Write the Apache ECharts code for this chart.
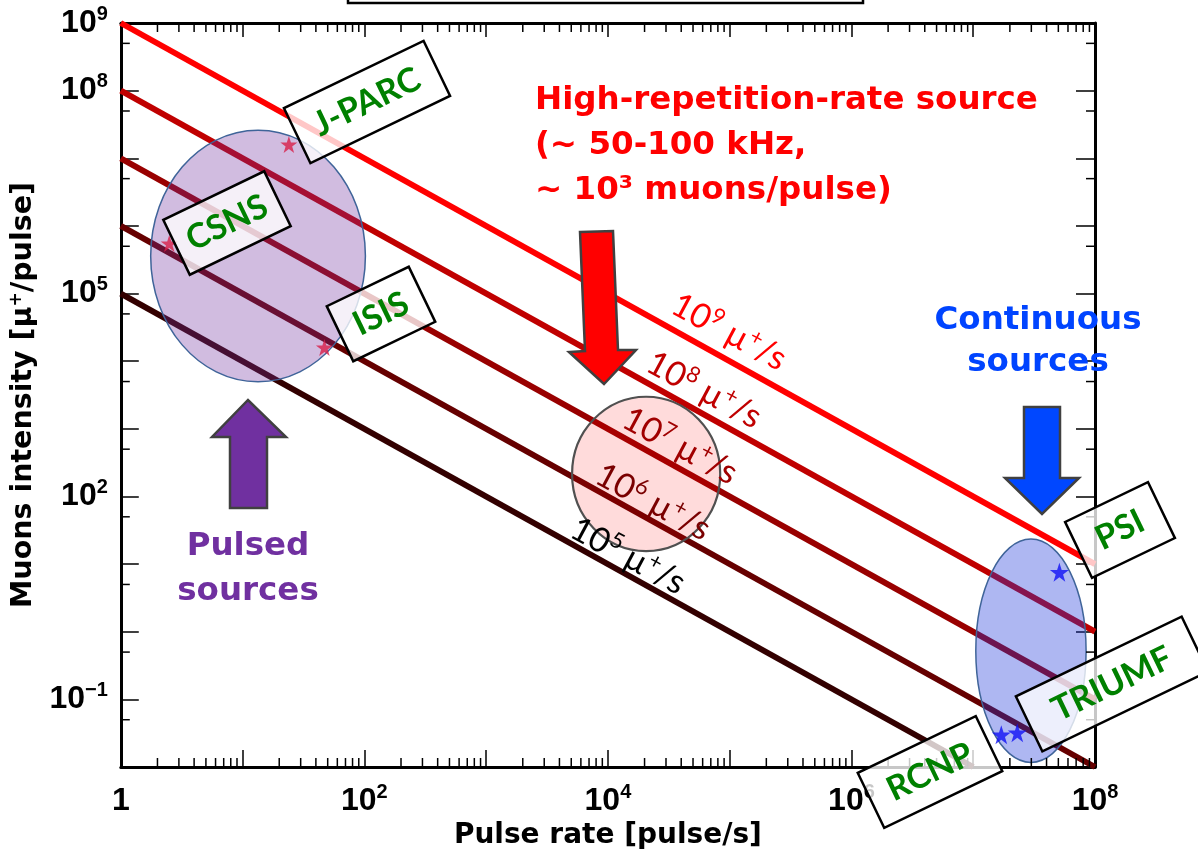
<!DOCTYPE html>
<html>
<head>
<meta charset="utf-8">
<script src="https://cdn.jsdelivr.net/npm/echarts@6/dist/echarts.min.js"></script>
<style>
  html, body { margin: 0; padding: 0; background: #fff; }
  #chart { width: 1198px; height: 855px; }
</style>
</head>
<body>
<div id="chart"></div>
<script>
// ---- axis ranges: pulse rate [pulse/s] and intensity [muons/pulse] ----
const xRange = [1, 1e8];
const yRange = [1e-2, 1e9];
// decades that carry a tick label
const xLabelExps = [0, 2, 4, 6, 8];
const yLabelExps = [9, 8, 5, 2, -1];
// minor tick mantissas inside each decade
const xMinorMantissas = [2, 3, 4, 5, 6, 7, 8, 9];
const yMinorMantissas = [5];

// ---- lines of constant total muon rate (10^n muons/s) ----
const rateExps = [9, 8, 7, 6, 5];
const rateLineStart = [[1, 1e9], [1, 1e8], [1, 1e7], [1, 1e6], [1, 1e5]];
const rateLineEnd = [[1e8, 10], [1e8, 1], [1e8, 0.1], [1e8, 0.01], [1e7, 0.01]];

// ---- facilities ----
const pulsedNames = ['J-PARC', 'CSNS', 'ISIS'];
const pulsedRate = [24, 2.5, 47];
const pulsedIntensity = [1.6e7, 5.5e5, 1.6e4];
const continuousNames = ['PSI', 'RCNP', 'TRIUMF'];
const continuousRate = [5.1e7, 1.7e7, 2.3e7];
const continuousIntensity = [7.6, 0.030, 0.032];

// ---- highlighted regions: [lower-left corner, upper-right corner] ----
const pulsedRegion = [[1.76, 4970], [102, 2.6e7]];
const highRepRegion = [[5080, 15.6], [8.36e4, 2980]];
const continuousRegion = [[1.05e7, 0.0117], [8.45e7, 23.4]];

// ---- styles ----
const lineColors = ['#ff0000', '#c00000', '#990000', '#660000', '#330000'];
const rateLabelColors = ['#ff0000', '#c00000', '#a00000', '#7a0000', '#000000'];
const tickFont = 'Liberation Sans, Arial, sans-serif';
const noteFont = 'DejaVu Sans, sans-serif';

function decadeTicks(range, mantissas) {
  const out = [];
  const e0 = Math.round(Math.log10(range[0]));
  const e1 = Math.round(Math.log10(range[1]));
  for (let e = e0; e < e1; e++) {
    mantissas.forEach(function (m) { out.push(m * Math.pow(10, e)); });
  }
  return out;
}
const xMinorTicks = decadeTicks(xRange, xMinorMantissas);
const yMinorTicks = decadeTicks(yRange, yMinorMantissas);

function powerLabel(exps) {
  return function (v) {
    const e = Math.round(Math.log10(v));
    if (exps.indexOf(e) < 0) return '';
    if (e === 0) return '{b|1}';
    return '{b|10}{s|' + (e < 0 ? '\u2212' + (-e) : e) + '}';
  };
}
const tickRich = {
  b: { fontFamily: tickFont, fontWeight: 'bold', fontSize: 32, color: '#000', lineHeight: 38 },
  s: { fontFamily: tickFont, fontWeight: 'bold', fontSize: 20, color: '#000', verticalAlign: 'top', lineHeight: 20 }
};

const axisLine = { show: true, lineStyle: { color: '#000', width: 3 } };

const chart = echarts.init(document.getElementById('chart'), null, { renderer: 'canvas' });

const lineSeries = rateExps.map(function (e, i) {
  return {
    type: 'line',
    name: '1e' + e,
    data: [rateLineStart[i], rateLineEnd[i]],
    symbol: 'none',
    clip: true,
    z: 2,
    silent: true,
    lineStyle: { color: lineColors[i], width: 6 }
  };
});

function regionSeries(region, fill, stroke, lw) {
  return {
    type: 'custom',
    coordinateSystem: 'cartesian2d',
    z: 3,
    silent: true,
    data: [[region[0][0], region[0][1], region[1][0], region[1][1]]],
    encode: { x: [0, 2], y: [1, 3] },
    renderItem: function (params, api) {
      const a = api.coord([api.value(0), api.value(1)]);
      const b = api.coord([api.value(2), api.value(3)]);
      return {
        type: 'ellipse',
        shape: {
          cx: (a[0] + b[0]) / 2, cy: (a[1] + b[1]) / 2,
          rx: Math.abs(b[0] - a[0]) / 2, ry: Math.abs(b[1] - a[1]) / 2
        },
        style: { fill: fill, stroke: stroke, lineWidth: lw }
      };
    }
  };
}

const starPath = 'path://M50,0 L61.8,35.5 L99,35.5 L68.9,57.4 L80.4,92.7 L50,70.9 L19.6,92.7 L31.1,57.4 L1,35.5 L38.2,35.5 Z';

const tickStyle = { stroke: '#000', lineWidth: 1.5 };
const xMinorSeries = {
  type: 'custom',
  silent: true,
  z: 6,
  clip: false,
  data: xMinorTicks.map(function (v) { return [v, 1]; }),
  renderItem: function (params, api) {
    const v = api.value(0);
    const pb = api.coord([v, yRange[0]]);
    const pt = api.coord([v, yRange[1]]);
    return {
      type: 'group',
      children: [
        { type: 'line', shape: { x1: pb[0], y1: pb[1], x2: pb[0], y2: pb[1] - 9 }, style: tickStyle },
        { type: 'line', shape: { x1: pt[0], y1: pt[1], x2: pt[0], y2: pt[1] + 9 }, style: tickStyle }
      ]
    };
  }
};
const yMinorSeries = {
  type: 'custom',
  silent: true,
  z: 6,
  clip: false,
  data: yMinorTicks.map(function (v) { return [1, v]; }),
  renderItem: function (params, api) {
    const v = api.value(1);
    const pl = api.coord([xRange[0], v]);
    const pr = api.coord([xRange[1], v]);
    return {
      type: 'group',
      children: [
        { type: 'line', shape: { x1: pl[0], y1: pl[1], x2: pl[0] + 9, y2: pl[1] }, style: tickStyle },
        { type: 'line', shape: { x1: pr[0], y1: pr[1], x2: pr[0] - 9, y2: pr[1] }, style: tickStyle }
      ]
    };
  }
};

// ---- annotation helpers (pixel space) ----
const boxAngle = 0.449;
function labelBox(cx, cy, w, h, text) {
  return {
    type: 'group', x: cx, y: cy, rotation: boxAngle, z: 100,
    children: [
      { type: 'rect', z: 100, shape: { x: -w / 2, y: -h / 2, width: w, height: h },
        style: { fill: 'rgba(255,255,255,0.78)', stroke: '#000', lineWidth: 2.5 } },
      { type: 'text', z: 101, x: 0, y: 0,
        style: { text: text, x: 0, y: 0, align: 'center', verticalAlign: 'middle',
          textAlign: 'center', textVerticalAlign: 'middle',
          font: 'bold 34px Lato, sans-serif', fill: '#008000' } }
    ]
  };
}
const rateAngle = -0.495;
function rateLabel(cx, cy, exp, color) {
  return {
    type: 'text', x: cx, y: cy, rotation: rateAngle, z: 100,
    style: {
      text: '{n|10}{s|' + exp + '}{n| \u00b5}{s|+}{n|/s}',
      x: 0, y: 0, align: 'center', verticalAlign: 'middle',
      textAlign: 'center', textVerticalAlign: 'middle',
      fill: color,
      rich: {
        n: { fontFamily: 'Lato, sans-serif', fontSize: 34, lineHeight: 38, fill: color },
        s: { fontFamily: 'Lato, sans-serif', fontSize: 22, lineHeight: 20, verticalAlign: 'top', fill: color }
      }
    }
  };
}
function note(x, y, text, color, align) {
  return {
    type: 'text', x: x, y: y, z: 100,
    style: { text: text, x: 0, y: 0, align: align, verticalAlign: 'middle',
      textAlign: align, textVerticalAlign: 'middle',
      font: 'bold 32.5px ' + noteFont, fill: color }
  };
}
function arrow(points, color) {
  return { type: 'polygon', z: 100, shape: { points: points },
    style: { fill: color, stroke: '#404040', lineWidth: 2.5 } };
}

const option = {
  animation: false,
  backgroundColor: '#ffffff',
  grid: { left: 115, top: 23, width: 980, height: 744, containLabel: false },
  xAxis: [
    {
      type: 'log', logBase: 10, min: xRange[0], max: xRange[1], interval: 1,
      position: 'bottom',
      name: 'Pulse rate [pulse/s]', nameLocation: 'middle', nameGap: 52,
      nameTextStyle: { fontFamily: noteFont, fontWeight: 'bold', fontSize: 28, color: '#000' },
      axisLine: axisLine,
      axisTick: { show: true, inside: true, length: 17, lineStyle: { color: '#000', width: 1.5 } },
      axisLabel: { show: true, margin: 15, formatter: powerLabel(xLabelExps), rich: tickRich, showMinLabel: true, showMaxLabel: true, hideOverlap: false },
      splitLine: { show: false }
    },
    {
      type: 'log', logBase: 10, min: xRange[0], max: xRange[1], interval: 1,
      position: 'top',
      axisLine: axisLine,
      axisTick: { show: true, inside: true, length: 14, lineStyle: { color: '#000', width: 1.5 } },
      axisLabel: { show: false },
      splitLine: { show: false }
    }
  ],
  yAxis: [
    {
      type: 'log', logBase: 10, min: yRange[0], max: yRange[1], interval: 1,
      position: 'left',
      name: '{t|Muons intensity [\u03bc}{u|+}{t|/pulse]}', nameLocation: 'middle', nameGap: 72,
      nameTextStyle: {
        rich: {
          t: { fontFamily: noteFont, fontWeight: 'bold', fontSize: 28.5, color: '#000', lineHeight: 32 },
          u: { fontFamily: noteFont, fontWeight: 'bold', fontSize: 17, color: '#000', verticalAlign: 'top', lineHeight: 16 }
        }
      },
      axisLine: axisLine,
      axisTick: { show: true, inside: true, length: 18, lineStyle: { color: '#000', width: 1.5 } },
      axisLabel: { show: true, margin: 13, formatter: powerLabel(yLabelExps), rich: tickRich, showMinLabel: true, showMaxLabel: true, hideOverlap: false },
      splitLine: { show: false }
    },
    {
      type: 'log', logBase: 10, min: yRange[0], max: yRange[1], interval: 1,
      position: 'right',
      axisLine: axisLine,
      axisTick: { show: true, inside: true, length: 19, lineStyle: { color: '#000', width: 1.5 } },
      axisLabel: { show: false },
      splitLine: { show: false }
    }
  ],
  series: lineSeries.concat([
    regionSeries(pulsedRegion, 'rgba(112,48,160,0.32)', '#3f6499', 1.5),
    regionSeries(highRepRegion, 'rgba(255,0,0,0.14)', '#505050', 2.2),
    regionSeries(continuousRegion, 'rgba(30,55,220,0.36)', '#3f6499', 1.5),
    {
      type: 'scatter', name: 'pulsed', z: 4, silent: true,
      symbol: starPath, symbolSize: 17,
      itemStyle: { color: '#d81e48' },
      data: pulsedRate.map(function (r, i) { return { name: pulsedNames[i], value: [r, pulsedIntensity[i]] }; })
    },
    {
      type: 'scatter', name: 'continuous', z: 4, silent: true,
      symbol: starPath, symbolSize: 19,
      itemStyle: { color: '#1010f5' },
      data: continuousRate.map(function (r, i) { return { name: continuousNames[i], value: [r, continuousIntensity[i]] }; })
    },
    xMinorSeries,
    yMinorSeries
  ]),
  graphic: {
    elements: [
      // lower edge of the heading frame above the plot
      { type: 'rect', z: 100, shape: { x: 348, y: -40, width: 515, height: 43 },
        style: { fill: 'none', stroke: '#000', lineWidth: 2.5 } },

      arrow([[230, 508], [267, 508], [267, 437], [286, 437], [248, 400], [212, 437], [230, 437]], '#7030a0'),
      arrow([[580, 232], [613, 231], [618, 350], [636, 350], [604, 384], [569, 352], [585, 351]], '#ff0000'),
      arrow([[1024, 407], [1060, 407], [1060, 478], [1079, 478], [1042, 514], [1005, 478], [1024, 478]], '#0047ff'),

      note(535, 101, 'High-repetition-rate source', '#ff0000', 'left'),
      note(535, 146, '(~ 50-100 kHz,', '#ff0000', 'left'),
      note(535, 191, '~ 10\u00b3 muons/pulse)', '#ff0000', 'left'),
      note(1038, 321, 'Continuous', '#0044ff', 'center'),
      note(1038, 363, 'sources', '#0044ff', 'center'),
      note(248, 547, 'Pulsed', '#7030a0', 'center'),
      note(248, 592, 'sources', '#7030a0', 'center'),

      rateLabel(729, 332, rateExps[0], rateLabelColors[0]),
      rateLabel(704, 390, rateExps[1], rateLabelColors[1]),
      rateLabel(680, 446, rateExps[2], rateLabelColors[2]),
      rateLabel(653, 502, rateExps[3], rateLabelColors[3]),
      rateLabel(628, 556, rateExps[4], rateLabelColors[4]),

      labelBox(367, 102, 155, 61, pulsedNames[0]),
      labelBox(227, 223, 112, 61, pulsedNames[1]),
      labelBox(381, 314, 91, 61, pulsedNames[2]),
      labelBox(1120, 530, 92, 62, continuousNames[0]),
      labelBox(930, 772, 131, 61, continuousNames[1]),
      labelBox(1112, 684, 184, 61, continuousNames[2])
    ]
  }
};

chart.setOption(option);
</script>
</body>
</html>
